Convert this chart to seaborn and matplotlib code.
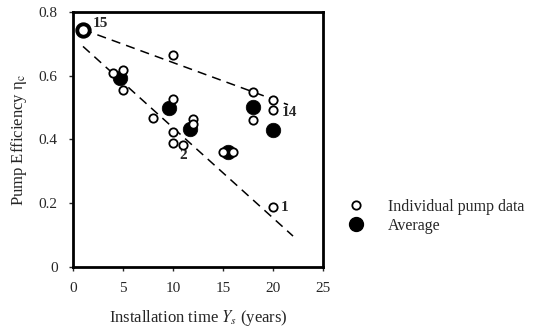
import matplotlib
matplotlib.use("Agg")
import matplotlib.pyplot as plt
import seaborn as sns
from matplotlib.lines import Line2D

# Individual pump data (installation time in years, efficiency)
ind_years = [4.0, 5.0, 5.0, 10.0, 10.0, 8.0, 12.0, 12.0, 10.0, 10.0, 11.0,
             15.0, 16.0, 18.0, 20.0, 20.0, 18.0, 20.0]
ind_eff = [0.608, 0.618, 0.556, 0.666, 0.528, 0.467, 0.465, 0.450, 0.425, 0.390, 0.384,
           0.361, 0.361, 0.549, 0.525, 0.493, 0.460, 0.188]

# Averages
avg_years = [4.7, 9.6, 11.7, 15.5, 18.0, 20.0]
avg_eff = [0.592, 0.498, 0.433, 0.361, 0.503, 0.431]

# Pump 15 (new pump, highlighted)
new_years = [1.0]
new_eff = [0.745]

# Dashed trend lines (end points)
upper_x = [1.0, 21.5]
upper_y = [0.745, 0.509]
lower_x = [1.0, 22.0]
lower_y = [0.692, 0.097]

# Pump number labels
label_text = ["15", "14", "2", "1"]
label_x = [2.0, 20.9, 11.0, 20.8]
label_y = [0.765, 0.484, 0.350, 0.188]

x_ticks = [0, 5, 10, 15, 20, 25]
y_ticks = [0, 0.2, 0.4, 0.6, 0.8]

sns.set_style("ticks")
plt.rcParams['font.family'] = ['Liberation Serif', 'DejaVu Serif']
plt.rcParams['mathtext.fontset'] = 'stix'

fig = plt.figure(figsize=(5.38, 3.30), dpi=100)
ax = fig.add_axes([0.1357, 0.191, 0.4647, 0.7726])

ax.plot(upper_x, upper_y, color='black', linestyle=(0, (6, 4)), linewidth=1.1)
ax.plot(lower_x, lower_y, color='black', linestyle=(0, (6, 4)), linewidth=1.1)

sns.scatterplot(x=avg_years, y=avg_eff, ax=ax, s=110, color='black',
                edgecolor='black', linewidth=0.5, zorder=3)
sns.scatterplot(x=ind_years, y=ind_eff, ax=ax, s=36, facecolor='white',
                edgecolor='black', linewidth=1.3, zorder=4)
sns.scatterplot(x=new_years, y=new_eff, ax=ax, s=80, facecolor='white',
                edgecolor='black', linewidth=2.8, zorder=5)

for t, x, y in zip(label_text, label_x, label_y):
    ha = 'center' if t == "2" else 'left'
    ax.text(x, y, t, fontsize=11, fontweight='bold', ha=ha, va='center')

ax.set_xlim(0, 25)
ax.set_ylim(0, 0.8)
ax.set_xticks(x_ticks)
ax.set_yticks(y_ticks)
ax.set_yticklabels(["0", "0.2", "0.4", "0.6", "0.8"])
ax.tick_params(direction='out', length=3, width=1, labelsize=11, pad=8)

for spine in ax.spines.values():
    spine.set_visible(True)
    spine.set_linewidth(2)
    spine.set_edgecolor('black')

ax.set_xlabel(r"Installation time $Y_s$ (years)", fontsize=12, labelpad=9)
ax.set_ylabel("Pump Efficiency η$_\\mathrm{c}$", fontsize=12, labelpad=7)

handles = [
    Line2D([], [], marker='o', linestyle='none', markersize=6, markerfacecolor='white',
           markeredgecolor='black', markeredgewidth=1.3, label='Individual pump data'),
    Line2D([], [], marker='o', linestyle='none', markersize=10, markerfacecolor='black',
           markeredgecolor='black', label='Average'),
]
fig.legend(handles=handles, loc='upper left', bbox_to_anchor=(0.620, 0.442),
           frameon=False, fontsize=11.5, handletextpad=1.5, labelspacing=0.2,
           handlelength=1.0)

fig.savefig("out.png", dpi=100)
